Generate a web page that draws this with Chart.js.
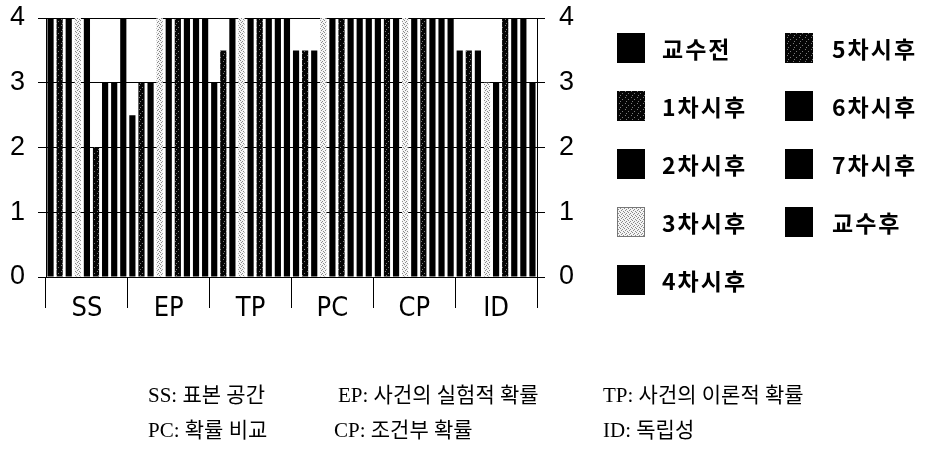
<!DOCTYPE html>
<html>
<head>
<meta charset="utf-8">
<script src="https://cdn.jsdelivr.net/npm/chart.js@4"></script>
<style>
  html, body { margin: 0; padding: 0; background: #fff; }
  #wrap { position: relative; width: 927px; height: 452px; overflow: hidden; }
  #wrap canvas { position: absolute; left: 0; top: 0; }
  .note {
    position: absolute;
    font-family: 'Liberation Serif', 'Noto Sans CJK KR', serif;
    font-size: 21px;
    color: #000;
    white-space: nowrap;
    line-height: 1;
    transform: translateY(-50%);
  }
</style>
</head>
<body>
<div id="wrap">
  <canvas id="chart" width="927" height="452"></canvas>
</div>
<script>
// Topics (x categories) and tick labels
const categories = ['SS', 'EP', 'TP', 'PC', 'CP', 'ID'];
const yTicks = [0, 1, 2, 3, 4];

// Survey rounds, one bar per round in each topic
const seriesNames = ['교수전', '1차시후', '2차시후', '3차시후', '4차시후', '5차시후', '6차시후', '7차시후', '교수후'];

// Scores per round, in topic order SS, EP, TP, PC, CP, ID
const before = [4, 2.5, 3, 3.5, 4, 3.5];
const after1 = [4, 3, 3.5, 3.5, 4, 3.5];
const after2 = [4, 3, 4, 3.5, 4, 3.5];
const after3 = [4, 4, 4, 4, 4, 3];
const after4 = [4, 4, 4, 4, 4, 3];
const after5 = [2, 4, 4, 4, 4, 4];
const after6 = [3, 4, 4, 4, 4, 4];
const after7 = [3, 4, 4, 4, 4, 4];
const afterAll = [4, 4, 4, 4, 4, 3];
const seriesValues = [before, after1, after2, after3, after4, after5, after6, after7, afterAll];

// Abbreviation key shown under the chart
const noteAbbr = ['SS', 'EP', 'TP', 'PC', 'CP', 'ID'];
const noteText = ['표본 공간', '사건의 실험적 확률', '사건의 이론적 확률', '확률 비교', '조건부 확률', '독립성'];

// Stippled fills for the dotted rounds
function stipple(bg, dot, size, dots) {
  const c = document.createElement('canvas');
  c.width = size; c.height = size;
  const g = c.getContext('2d');
  g.fillStyle = bg; g.fillRect(0, 0, size, size);
  g.fillStyle = dot;
  dots.forEach(([x, y]) => g.fillRect(x, y, 1, 1));
  return g.createPattern(c, 'repeat');
}
const lightDots = stipple('#f4f4f4', '#8a8a8a', 4, [[0, 0], [2, 1], [1, 2], [3, 3]]);
const darkDots = stipple('#050505', '#7a7a7a', 6, [[1, 1], [4, 3], [2, 5]]);
const fills = ['#000', darkDots, '#000', lightDots, '#000', darkDots, '#000', '#000', '#000'];

const datasets = seriesNames.map((name, i) => ({
  label: name,
  data: seriesValues[i],
  backgroundColor: fills[i],
  borderWidth: 0,
  barPercentage: 0.68,
  categoryPercentage: 1.0
}));

// Two-column legend on the right, filled column by column
const gridLegend = {
  id: 'gridLegend',
  afterDraw(chart) {
    const ctx = chart.ctx;
    const colSwatch = [617, 785];
    const colText = [662, 832];
    ctx.save();
    chart.data.datasets.forEach((ds, i) => {
      const col = Math.floor(i / 5), row = i % 5;
      const cy = 48 + row * 58;
      ctx.fillStyle = ds.backgroundColor;
      ctx.fillRect(colSwatch[col], cy - 15, 28, 30);
      if (ds.backgroundColor === lightDots) {
        ctx.strokeStyle = '#777';
        ctx.lineWidth = 1;
        ctx.strokeRect(colSwatch[col] + 0.5, cy - 14.5, 27, 29);
      }
      ctx.fillStyle = '#000';
      ctx.font = "bold 23px 'Noto Sans CJK KR', sans-serif";
      ctx.letterSpacing = '2px';
      ctx.textAlign = 'left';
      ctx.textBaseline = 'middle';
      ctx.fillText(ds.label, colText[col], cy + 1);
    });
    ctx.restore();
  }
};

const axisFont = { family: "'Liberation Sans', Arial, sans-serif", size: 27 };

// Fixed axis sizes so the plot area sits at a known place
function fitVertical(width) {
  return s => { s.width = width; s.paddingTop = 0; s.paddingBottom = 0; };
}

new Chart(document.getElementById('chart'), {
  type: 'bar',
  data: { labels: categories, datasets },
  options: {
    responsive: false,
    animation: false,
    devicePixelRatio: 1,
    layout: { padding: { left: 0, top: 18, right: 350, bottom: 135 } },
    plugins: { legend: { display: false }, tooltip: { enabled: false } },
    scales: {
      x: {
        offset: true,
        grid: { offset: true, drawOnChartArea: false, drawTicks: true, tickLength: 31, color: '#000', lineWidth: 1 },
        border: { display: true, color: '#000', width: 1 },
        ticks: {
          color: '#000',
          padding: -15,
          maxRotation: 0,
          font: { family: "'Liberation Sans Narrow', 'DejaVu Sans Condensed', 'Liberation Sans', sans-serif", size: 27 }
        },
        afterFit(s) { s.height = 40; s.paddingLeft = 0; s.paddingRight = 0; }
      },
      y: {
        position: 'left',
        min: 0, max: 4,
        afterBuildTicks(s) { s.ticks = yTicks.map(v => ({ value: v })); },
        ticks: { color: '#000', padding: 13, font: axisFont },
        grid: { color: '#000', lineWidth: 1, tickLength: 8 },
        border: { display: true, color: '#000', width: 1 },
        afterFit: fitVertical(46)
      },
      y2: {
        position: 'right',
        min: 0, max: 4,
        afterBuildTicks(s) { s.ticks = yTicks.map(v => ({ value: v })); },
        ticks: { color: '#000', padding: 14, font: axisFont },
        grid: { drawOnChartArea: false, color: '#000', lineWidth: 1, tickLength: 8 },
        border: { display: true, color: '#000', width: 1 },
        afterFit: fitVertical(40)
      }
    }
  },
  plugins: [gridLegend]
});

// Abbreviation key, three entries per line
const wrap = document.getElementById('wrap');
const noteX = [[148, 338, 603], [148, 334, 603]];
const noteY = [395, 430];
noteAbbr.forEach((abbr, i) => {
  const row = Math.floor(i / 3), col = i % 3;
  const d = document.createElement('div');
  d.className = 'note';
  d.textContent = abbr + ': ' + noteText[i];
  d.style.left = noteX[row][col] + 'px';
  d.style.top = noteY[row] + 'px';
  wrap.appendChild(d);
});
</script>
</body>
</html>
